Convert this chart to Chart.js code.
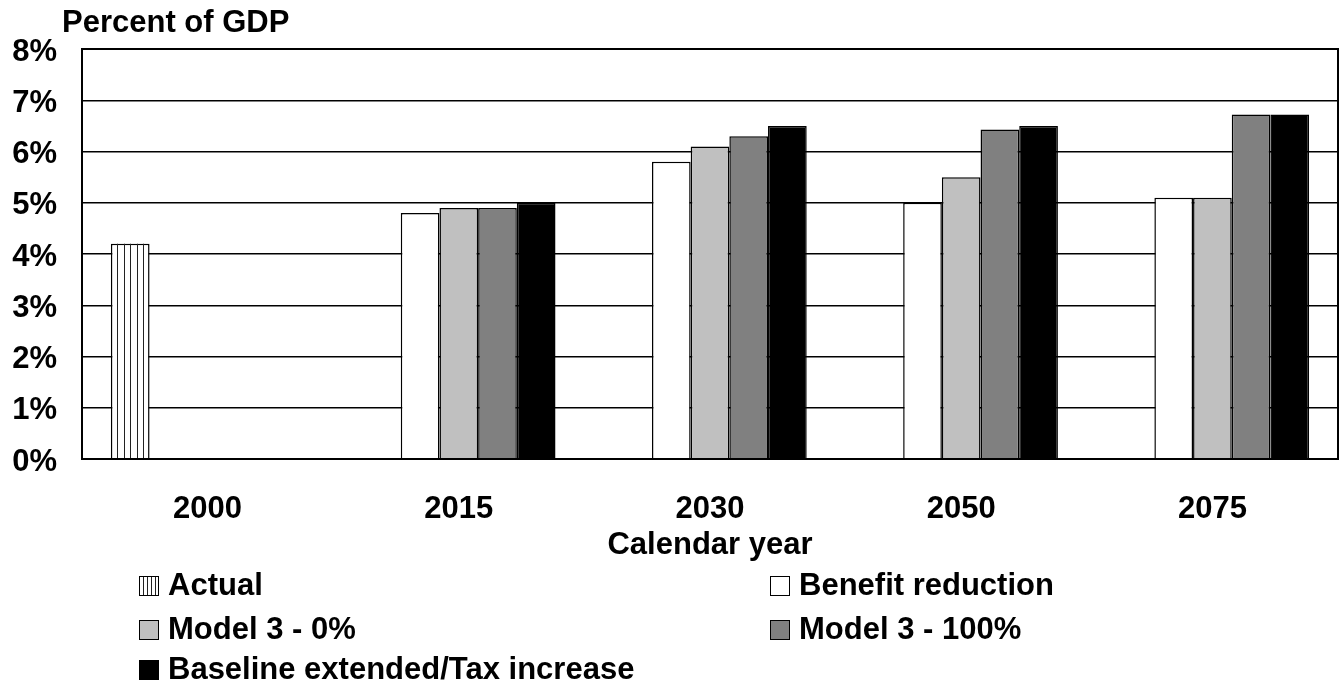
<!DOCTYPE html>
<html>
<head>
<meta charset="utf-8">
<script src="https://cdn.jsdelivr.net/npm/chart.js@4"></script>
<style>
  html, body { margin: 0; padding: 0; background: #fff; }
  #wrap { width: 1341px; height: 683px; }
</style>
</head>
<body>
<div id="wrap"><canvas id="gdpChart" width="1341" height="683"></canvas></div>
<script>
const years = ['2000', '2015', '2030', '2050', '2075'];
const actual = [4.2, null, null, null, null];
const benefitReduction = [null, 4.8, 5.8, 5.0, 5.1];
const model3Zero = [null, 4.9, 6.1, 5.5, 5.1];
const model3Full = [null, 4.9, 6.3, 6.43, 6.72];
const baselineTax = [null, 5.0, 6.5, 6.5, 6.72];
const yTicks = [0, 1, 2, 3, 4, 5, 6, 7, 8];

const FONT = 'Liberation Sans, Arial, Helvetica, sans-serif';
const bold = size => ({ family: FONT, size: size, weight: 'bold' });

// stripes for the "Actual" bar + frame + title + legend
const extras = {
  id: 'extras',
  afterDatasetsDraw(chart) {
    const ctx = chart.ctx;
    const meta = chart.getDatasetMeta(0);
    ctx.save();
    ctx.strokeStyle = '#222';
    ctx.lineWidth = 1;
    meta.data.forEach((bar, i) => {
      if (actual[i] == null) return;
      const p = bar.getProps(['x', 'y', 'base', 'width'], true);
      const left = p.x - p.width / 2;
      const step = p.width / 6;
      for (let k = 1; k < 6; k++) {
        const x = Math.round(left + k * step) + 0.5;
        ctx.beginPath();
        ctx.moveTo(x, p.y);
        ctx.lineTo(x, p.base);
        ctx.stroke();
      }
    });
    const a = chart.chartArea;
    ctx.strokeStyle = '#000';
    ctx.lineWidth = 2;
    ctx.strokeRect(a.left, a.top, a.right - a.left, a.bottom - a.top);
    ctx.restore();
  },
  afterDraw(chart) {
    const ctx = chart.ctx;
    ctx.save();
    ctx.fillStyle = '#000';
    ctx.font = 'bold 31px ' + FONT;
    ctx.textBaseline = 'middle';
    ctx.textAlign = 'left';
    ctx.fillText('Percent of GDP', 62, 23);

    const cols = [139, 770];
    const rows = [586, 630, 670];
    chart.data.datasets.forEach((ds, i) => {
      const bx = cols[i % 2];
      const by = rows[Math.floor(i / 2)];
      const s = 20;
      ctx.fillStyle = ds.backgroundColor;
      ctx.fillRect(bx, by - s / 2, s, s);
      ctx.lineWidth = 1;
      if (i === 0) {
        ctx.strokeStyle = '#222';
        for (let k = 1; k < 5; k++) {
          const x = Math.round(bx + k * s / 5) + 0.5;
          ctx.beginPath();
          ctx.moveTo(x, by - s / 2);
          ctx.lineTo(x, by + s / 2);
          ctx.stroke();
        }
      }
      ctx.strokeStyle = '#000';
      ctx.strokeRect(bx + 0.5, by - s / 2 + 0.5, s - 1, s - 1);
      ctx.fillStyle = '#000';
      ctx.fillText(ds.label, bx + 29, by);
    });
    ctx.restore();
  }
};

const barStyle = { borderColor: '#000', borderWidth: 1.5, categoryPercentage: 0.77, barPercentage: 1 };

new Chart(document.getElementById('gdpChart'), {
  type: 'bar',
  data: {
    labels: years,
    datasets: [
      { label: 'Actual', data: actual, backgroundColor: '#ffffff', ...barStyle },
      { label: 'Benefit reduction', data: benefitReduction, backgroundColor: '#ffffff', ...barStyle },
      { label: 'Model 3 - 0%', data: model3Zero, backgroundColor: '#c0c0c0', ...barStyle },
      { label: 'Model 3 - 100%', data: model3Full, backgroundColor: '#808080', ...barStyle },
      { label: 'Baseline extended/Tax increase', data: baselineTax, backgroundColor: '#000000', ...barStyle }
    ]
  },
  options: {
    responsive: false,
    animation: false,
    devicePixelRatio: 1,
    layout: { padding: { top: 49, right: 3, bottom: 118, left: 0 } },
    plugins: {
      legend: { display: false },
      tooltip: { enabled: false }
    },
    scales: {
      x: {
        grid: { display: false },
        border: { display: true, color: '#000', width: 2 },
        ticks: { color: '#000', font: bold(31), padding: 24, maxRotation: 0 },
        title: { display: true, text: 'Calendar year', color: '#000', font: bold(31), padding: { top: 0, bottom: 1 } },
        afterFit: scale => { scale.height = 106; }
      },
      y: {
        min: 0,
        max: 8,
        afterBuildTicks: scale => { scale.ticks = yTicks.map(v => ({ value: v })); },
        grid: { color: '#000', lineWidth: 1.5, drawTicks: false },
        border: { display: true, color: '#000', width: 2 },
        ticks: { color: '#000', font: bold(31), padding: 25, labelOffset: 3, callback: v => v + '%' },
        afterFit: scale => { scale.width = 82; }
      }
    }
  },
  plugins: [extras]
});
</script>
</body>
</html>
